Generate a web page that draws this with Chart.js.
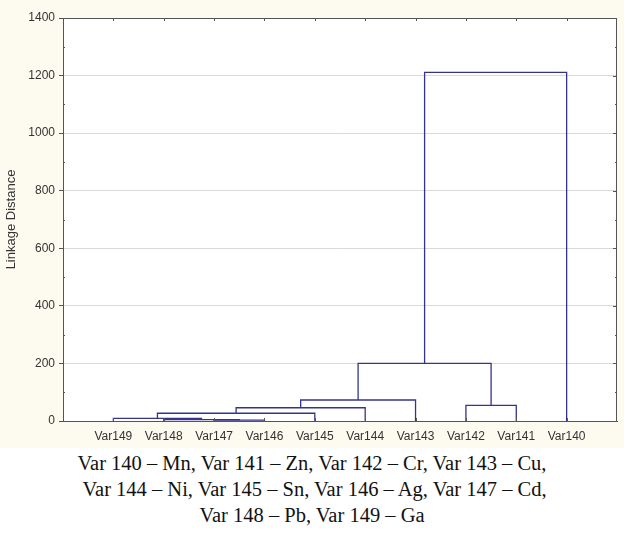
<!DOCTYPE html>
<html>
<head>
<meta charset="utf-8">
<script src="https://cdn.jsdelivr.net/npm/chart.js@4/dist/chart.umd.min.js"></script>
<style>
  html, body { margin: 0; padding: 0; background: #fff; }
  #wrap { width: 624px; height: 448px; background: #fdfbf0; position: relative; }
  #caption {
    font-family: "Liberation Serif", serif;
    font-size: 20.5px;
    line-height: 26px;
    text-align: center;
    color: #111;
    padding-top: 2px;
  }
</style>
</head>
<body>
<div id="wrap"><canvas id="chart"></canvas></div>
<div id="caption">Var 140 – Mn, Var 141 – Zn, Var 142 – Cr, Var 143 – Cu,<br>&nbsp;Var 144 – Ni, Var 145 – Sn, Var 146 – Ag, Var 147 – Cd,<br>Var 148 – Pb, Var 149 – Ga</div>
<script>
// leaves in dendrogram order, left to right
var leaves = ['Var149', 'Var148', 'Var147', 'Var146', 'Var145', 'Var144', 'Var143', 'Var142', 'Var141', 'Var140'];
// merges: node ids 0-9 are leaves, merge k creates node 10+k
var mergeLeft   = [2, 1, 0, 12, 13, 14, 7, 15, 17];
var mergeRight  = [3, 10, 11, 4, 5, 6, 8, 16, 9];
var mergeHeight = [3, 5, 9, 27, 46, 73, 54, 200, 1211];
var yTicks = [0, 200, 400, 600, 800, 1000, 1200, 1400];

var lineColor = '#34348c';

var nodeX = [], nodeY = [];
for (var i = 0; i < leaves.length; i++) {
  nodeX.push(i + 1);
  nodeY.push(0);
}
var datasets = [];
for (var k = 0; k < mergeHeight.length; k++) {
  var l = mergeLeft[k], r = mergeRight[k], h = mergeHeight[k];
  datasets.push({
    data: [
      {x: nodeX[l], y: nodeY[l]},
      {x: nodeX[l], y: h},
      {x: nodeX[r], y: h},
      {x: nodeX[r], y: nodeY[r]}
    ],
    showLine: true,
    borderColor: lineColor,
    borderWidth: 1.3,
    pointRadius: 0,
    fill: false
  });
  nodeX.push((nodeX[l] + nodeX[r]) / 2);
  nodeY.push(h);
}

// white plot area, frame and small inner ticks like the original
var frame = {
  id: 'frame',
  beforeDraw: function(chart) {
    var a = chart.chartArea, ctx = chart.ctx;
    ctx.save();
    ctx.fillStyle = '#ffffff';
    ctx.fillRect(a.left, a.top, a.right - a.left, a.bottom - a.top);
    ctx.restore();
  },
  afterDraw: function(chart) {
    var a = chart.chartArea, ctx = chart.ctx;
    var xs = chart.scales.x, ys = chart.scales.y;
    ctx.save();
    ctx.strokeStyle = '#555';
    ctx.lineWidth = 1;
    ctx.strokeRect(a.left + 0.5, a.top + 0.5, a.right - a.left - 1, a.bottom - a.top);
    ctx.beginPath();
    leaves.forEach(function(name, i) {
      var px = Math.round(xs.getPixelForValue(i + 1)) + 0.5;
      ctx.moveTo(px, a.top); ctx.lineTo(px, a.top + 3);
      ctx.moveTo(px, a.bottom); ctx.lineTo(px, a.bottom - 3);
    });
    for (var v = 100; v < 1400; v += 100) {
      var py = Math.round(ys.getPixelForValue(v)) + 0.5;
      var len = (v % 200 === 0) ? 4 : 2;
      ctx.moveTo(a.right, py); ctx.lineTo(a.right - len, py);
      if (v % 200 !== 0) { ctx.moveTo(a.left, py); ctx.lineTo(a.left + 2, py); }
    }
    ctx.stroke();
    ctx.restore();
  }
};

new Chart(document.getElementById('chart'), {
  type: 'scatter',
  data: { datasets: datasets },
  options: {
    responsive: true,
    maintainAspectRatio: false,
    animation: false,
    layout: { padding: { top: 18, right: 7, left: 0, bottom: 0 } },
    plugins: {
      legend: { display: false },
      tooltip: { enabled: false }
    },
    scales: {
      x: {
        type: 'linear',
        min: 0,
        max: 11,
        afterBuildTicks: function(scale) {
          scale.ticks = leaves.map(function(n, i) { return {value: i + 1}; });
        },
        ticks: {
          autoSkip: false,
          maxRotation: 0,
          padding: 8,
          color: '#333',
          font: { family: '"Liberation Sans", Arial, sans-serif', size: 12 },
          callback: function(v) { return leaves[v - 1] || ''; }
        },
        grid: { drawOnChartArea: false, drawTicks: false },
        border: { color: '#555' },
        afterFit: function(scale) { scale.height = 27; }
      },
      y: {
        min: 0,
        max: 1400,
        afterBuildTicks: function(scale) {
          scale.ticks = yTicks.map(function(v) { return {value: v}; });
        },
        ticks: {
          padding: 4,
          color: '#333',
          font: { family: '"Liberation Sans", Arial, sans-serif', size: 12 },
          callback: function(v) { return String(v); }
        },
        grid: { color: '#d9d9d9', tickColor: '#555', tickLength: 4 },
        border: { color: '#555' },
        title: {
          display: true,
          text: 'Linkage Distance',
          color: '#333',
          padding: { top: 4, bottom: 0 },
          font: { family: '"Liberation Sans", Arial, sans-serif', size: 13 }
        },
        afterFit: function(scale) { scale.width = 63; }
      }
    }
  },
  plugins: [frame]
});
</script>
</body>
</html>
